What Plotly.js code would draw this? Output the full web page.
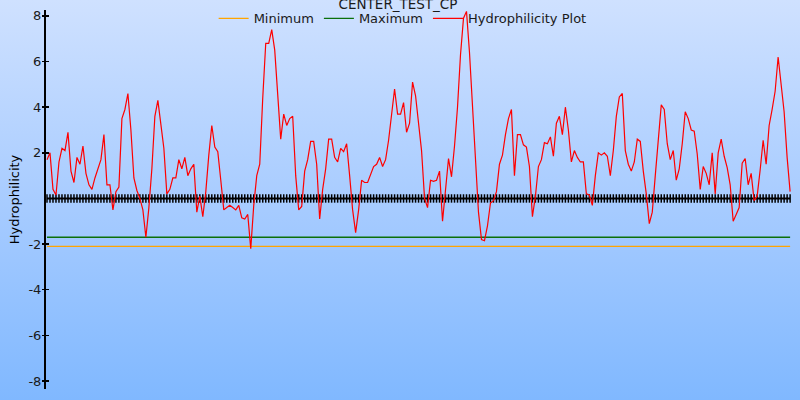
<!DOCTYPE html>
<html>
<head>
<meta charset="utf-8">
<script src="https://cdn.plot.ly/plotly-3.0.1.min.js"></script>
<style>
  html, body { margin: 0; padding: 0; }
  #chart { width: 800px; height: 400px; background: linear-gradient(to bottom, #cfe1ff 0%, #a8ccff 50%, #80b8ff 100%); }
</style>
</head>
<body>
<div id="chart"></div>
<script>
const chartTitle = "CENTER_TEST_CP";
const yTitle = "Hydrophilicity";
const seriesNames = ["Minimum", "Maximum", "Hydrophilicity Plot"];
const minimumLevel = -2.1;
const maximumLevel = -1.7;
const tickValues = [-8, -6, -4, -2, 2, 4, 6, 8];
const tickLabels = ["-8", "-6", "-4", "-2", "2", "4", "6", "8"];
const hydrophilicity = [
  1.7, 2.0, 0.4, 0.15, 1.6, 2.2, 2.1, 2.9, 1.2, 0.7,
  1.8, 1.5, 2.3, 1.1, 0.6, 0.4, 0.9, 1.35, 1.7, 2.8,
  0.6, 0.6, -0.5, 0.3, 0.5, 3.5, 3.9, 4.6, 3.0, 0.9,
  0.35, 0.0, -0.5, -1.7, -0.4, 1.3, 3.6, 4.3, 3.3, 2.2,
  0.2, 0.4, 0.9, 0.9, 1.7, 1.3, 1.8, 1.0, 1.3, 1.5,
  -0.6, 0.1, -0.8, 0.3, 1.9, 3.2, 2.25, 2.05, 0.8, -0.5,
  -0.4, -0.3, -0.4, -0.5, -0.3, -0.85, -0.9, -0.7, -2.2, -0.3,
  1.0, 1.5, 4.4, 6.8, 6.8, 7.4, 6.5, 4.45, 2.6, 3.7,
  3.2, 3.5, 3.6, 1.0, -0.5, -0.35, 1.2, 1.7, 2.5, 2.5,
  1.5, -0.9, 0.4, 1.3, 2.6, 2.6, 1.8, 1.6, 2.2, 2.05,
  2.4, 1.0, -0.5, -1.5, -0.5, 0.8, 0.7, 0.7, 1.1, 1.4,
  1.5, 1.8, 1.4, 1.7, 2.55, 3.6, 4.8, 3.7, 3.7, 4.2,
  2.9, 3.3, 5.1, 4.5, 3.4, 2.1, 0.0, -0.4, 0.8, 0.75,
  0.8, 1.2, -1.0, 0.4, 1.75, 0.95, 2.3, 4.0, 6.3, 7.9,
  8.2, 6.4, 4.2, 1.5, -0.6, -1.8, -1.85, -1.2, -0.2, -0.1,
  0.3, 1.5, 1.9, 2.8, 3.5, 3.9, 1.0, 2.8, 2.8, 2.35,
  2.25, 1.4, -0.8, 0.1, 1.4, 1.7, 2.45, 2.4, 2.7, 1.85,
  3.3, 3.6, 2.8, 4.0, 3.0, 1.6, 2.1, 1.8, 1.6, 1.6,
  0.2, 0.15, -0.3, 1.0, 2.0, 1.9, 2.0, 1.85, 1.0, 2.1,
  3.6, 4.45, 4.6, 2.1, 1.5, 1.2, 1.6, 2.6, 2.5, 1.2,
  0.2, -1.1, -0.6, 1.0, 2.7, 4.1, 3.9, 2.4, 1.7, 2.1,
  0.8, 1.3, 2.4, 3.8, 3.5, 3.0, 2.95, 1.95, 0.4, 1.4,
  1.1, 0.6, 2.0, 0.2, 2.0, 2.6, 1.85, 1.35, 0.6, -1.0,
  -0.7, -0.4, 1.55, 1.75, 0.6, 1.1, -0.1, 0.1, 1.25, 2.55,
  1.5, 3.2, 3.9, 4.7, 6.2, 5.1, 3.8, 1.8, 0.3
];
const positions = hydrophilicity.map((_, i) => i + 1);
const firstPos = positions[0];
const lastPos = positions[positions.length - 1];

const font = "DejaVu Sans, Verdana, sans-serif";

const traces = [
  {
    x: [firstPos, lastPos], y: [minimumLevel, minimumLevel],
    name: seriesNames[0], mode: "lines",
    line: { color: "#ffa500", width: 1.3 }
  },
  {
    x: [firstPos, lastPos], y: [maximumLevel, maximumLevel],
    name: seriesNames[1], mode: "lines",
    line: { color: "#0b700b", width: 1.3 }
  },
  {
    x: positions, y: positions.map(() => 0),
    mode: "lines+markers", showlegend: false, hoverinfo: "skip",
    line: { color: "#000000", width: 2 },
    marker: { symbol: "line-ns", size: 6, line: { color: "#000000", width: 1.5 } }
  },
  {
    x: positions, y: hydrophilicity,
    name: seriesNames[2], mode: "lines",
    line: { color: "#ff0000", width: 1.2 }
  },
  {
    x: [firstPos], y: [0], yaxis: "y2", mode: "markers",
    showlegend: false, hoverinfo: "skip", marker: { opacity: 0 }
  }
];

const layout = {
  width: 800, height: 400,
  paper_bgcolor: "rgba(0,0,0,0)",
  plot_bgcolor: "rgba(0,0,0,0)",
  margin: { l: 46, r: 0, t: 10, b: 11 },
  font: { family: font, color: "#1a1a1a", size: 13 },
  title: {
    text: chartTitle,
    font: { family: font, size: 13.5, color: "#1a1a1a" },
    x: 0.4975, xanchor: "center", y: 1, yanchor: "top",
    pad: { t: 0, b: 0, l: 0, r: 0 }
  },
  showlegend: true,
  legend: {
    orientation: "h", x: 0.473, xanchor: "center", y: 0.978, yanchor: "middle",
    bgcolor: "rgba(0,0,0,0)", font: { family: font, size: 13, color: "#1a1a1a" },
    itemwidth: 30
  },
  xaxis: {
    visible: false, range: [0.667, 252.3], fixedrange: true
  },
  yaxis: {
    range: [-8.35, 8.26], tickvals: tickValues, ticktext: tickLabels,
    ticks: "inside", ticklen: 3, tickwidth: 1.5, tickcolor: "#000",
    showline: true, linecolor: "#000", linewidth: 2,
    showgrid: false, zeroline: false,
    tickfont: { family: font, size: 13, color: "#1a1a1a" },
    title: { text: yTitle, font: { family: font, size: 13, color: "#000" }, standoff: 6 }
  },
  yaxis2: {
    overlaying: "y", side: "left", range: [-8.35, 8.26], tickvals: tickValues,
    showticklabels: false, ticks: "outside", ticklen: 3, tickwidth: 1.5, tickcolor: "#000",
    showline: false, showgrid: false, zeroline: false
  }
};

Plotly.newPlot("chart", traces, layout, { displayModeBar: false, staticPlot: true });
</script>
</body>
</html>
